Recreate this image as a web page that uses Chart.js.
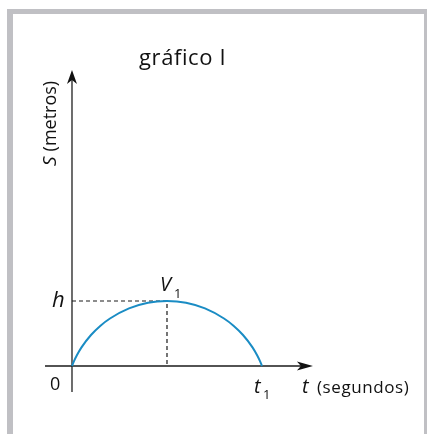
<!DOCTYPE html>
<html>
<head>
<meta charset="utf-8">
<script src="https://cdn.jsdelivr.net/npm/chart.js@4"></script>
<style>
    html, body { margin: 0; padding: 0; background: #ffffff; }
    #wrap { position: absolute; left: 0; top: 0; width: 427px; height: 434px; }
    #frame {
        position: absolute; left: 7px; top: 9px; right: 0; bottom: -10px;
        border-left: 6px solid #c0c0c4; border-top: 5px solid #c0c0c4; border-right: 3px solid #c0c0c4;
        pointer-events: none;
    }
</style>
</head>
<body>
<div id="wrap">
    <canvas id="graph" width="427" height="434"></canvas>
    <div id="frame"></div>
</div>
<script>
// Curve S(t): arc from (0,0) up to the vertex V1 and back down at t1
const tValues = [0, 0.1, 0.25, 0.5, 1, 1.5, 2, 3, 4, 5, 6, 7, 8, 8.5, 9, 9.5, 9.75, 9.9, 10];
const sValues = [0, 0.24, 0.55, 0.98, 1.63, 2.12, 2.5, 3.03, 3.33, 3.42, 3.33, 3.03, 2.5, 2.12, 1.63, 0.98, 0.55, 0.24, 0];

// Vertex V1 = (tVertex, h), end time t1
const tVertex = 5;
const hValue = 3.42;
const t1Value = 10;

// Axis extents (data units)
const xAxisRange = [-1.42, 12.68];
const yAxisRange = [-1.37, 15.58];

const curvePoints = tValues.map((t, i) => ({ x: t, y: sValues[i] }));
const guidePoints = [
    { x: 0, y: hValue },
    { x: tVertex, y: hValue },
    { x: tVertex, y: 0 }
];

const fontFamily = '"Open Sans", "Noto Sans", sans-serif';

function arrowHead(ctx, x, y, dir) {
    // dir: 'up' or 'right', barbed arrow
    ctx.beginPath();
    if (dir === 'up') {
        ctx.moveTo(x, y);
        ctx.lineTo(x - 5, y + 14);
        ctx.lineTo(x, y + 10);
        ctx.lineTo(x + 5, y + 14);
    } else {
        ctx.moveTo(x, y);
        ctx.lineTo(x - 16, y - 4.5);
        ctx.lineTo(x - 12, y);
        ctx.lineTo(x - 16, y + 4.5);
    }
    ctx.closePath();
    ctx.fill();
}

// Axes with arrows, drawn under the datasets; labels on top
const axesPlugin = {
    id: 'axesPlugin',
    beforeDatasetsDraw(chart) {
        const ctx = chart.ctx;
        const xs = chart.scales.x;
        const ys = chart.scales.y;
        const x0 = xs.getPixelForValue(0);
        const y0 = ys.getPixelForValue(0);
        ctx.save();
        ctx.lineWidth = 1.6;
        // y axis
        ctx.strokeStyle = '#4a4a4a';
        ctx.beginPath();
        ctx.moveTo(x0, ys.getPixelForValue(yAxisRange[0]));
        ctx.lineTo(x0, ys.getPixelForValue(yAxisRange[1]) + 8);
        ctx.stroke();
        ctx.fillStyle = '#111';
        arrowHead(ctx, x0, ys.getPixelForValue(yAxisRange[1]), 'up');
        // x axis
        ctx.strokeStyle = '#1a1a1a';
        ctx.beginPath();
        ctx.moveTo(xs.getPixelForValue(xAxisRange[0]), y0);
        ctx.lineTo(xs.getPixelForValue(xAxisRange[1]) - 10, y0);
        ctx.stroke();
        arrowHead(ctx, xs.getPixelForValue(xAxisRange[1]), y0, 'right');
        ctx.restore();
    },
    afterDatasetsDraw(chart) {
        const ctx = chart.ctx;
        const xs = chart.scales.x;
        const ys = chart.scales.y;
        const x0 = xs.getPixelForValue(0);
        const y0 = ys.getPixelForValue(0);
        const xv = xs.getPixelForValue(tVertex);
        const yh = ys.getPixelForValue(hValue);
        const xt1 = xs.getPixelForValue(t1Value);
        const xEnd = xs.getPixelForValue(xAxisRange[1]);
        ctx.save();
        ctx.fillStyle = '#111';
        ctx.textBaseline = 'alphabetic';
        ctx.textAlign = 'left';

        // title
        ctx.font = '22px ' + fontFamily;
        ctx.letterSpacing = '0.6px';
        ctx.fillText('gráfico I', 139, 65);
        ctx.letterSpacing = '0px';

        // y axis title, rotated
        ctx.save();
        ctx.translate(x0 - 16, 166);
        ctx.rotate(-Math.PI / 2);
        ctx.font = 'italic 19px ' + fontFamily;
        ctx.fillText('S', 0, 0);
        const sw = ctx.measureText('S').width;
        ctx.font = '18px ' + fontFamily;
        ctx.fillText('(metros)', sw + 5, 0);
        ctx.restore();

        // h label
        ctx.font = 'italic 22px ' + fontFamily;
        ctx.fillText('h', x0 - 20, yh + 6);

        // V1 label
        ctx.font = 'italic 20px ' + fontFamily;
        ctx.fillText('V', xv - 7, yh - 10);
        ctx.font = '13px ' + fontFamily;
        ctx.fillText('1', xv + 7, yh - 3);

        // origin
        ctx.font = '18px ' + fontFamily;
        ctx.fillText('0', x0 - 22, y0 + 24);

        // t1
        ctx.font = 'italic 20px ' + fontFamily;
        ctx.fillText('t', xt1 - 8, y0 + 27);
        ctx.font = '13px ' + fontFamily;
        ctx.fillText('1', xt1 + 1, y0 + 33);

        // x axis title
        ctx.font = 'italic 20px ' + fontFamily;
        ctx.fillText('t', xEnd - 11, y0 + 27);
        ctx.font = '17px ' + fontFamily;
        ctx.letterSpacing = '0.6px';
        ctx.fillText('(segundos)', xEnd + 4, y0 + 27);
        ctx.letterSpacing = '0px';
        ctx.restore();
    }
};

const ctx = document.getElementById('graph').getContext('2d');
const graph = new Chart(ctx, {
    type: 'scatter',
    data: {
        datasets: [{
            label: 'S(t)',
            data: curvePoints,
            showLine: true,
            borderColor: '#1a8cc4',
            borderWidth: 2,
            pointRadius: 0,
            cubicInterpolationMode: 'monotone',
            fill: false
        }, {
            label: 'guia',
            data: guidePoints,
            showLine: true,
            borderColor: '#1a1a1a',
            borderWidth: 1.2,
            borderDash: [4, 3],
            pointRadius: 0,
            tension: 0,
            fill: false
        }]
    },
    options: {
        responsive: false,
        animation: false,
        events: [],
        layout: { padding: 0 },
        plugins: {
            legend: { display: false },
            tooltip: { enabled: false },
            title: { display: false }
        },
        scales: {
            x: { type: 'linear', display: false, min: -3.789, max: 18.684 },
            y: { type: 'linear', display: false, min: -3.579, max: 19.263 }
        }
    },
    plugins: [axesPlugin]
});
</script>
</body>
</html>
